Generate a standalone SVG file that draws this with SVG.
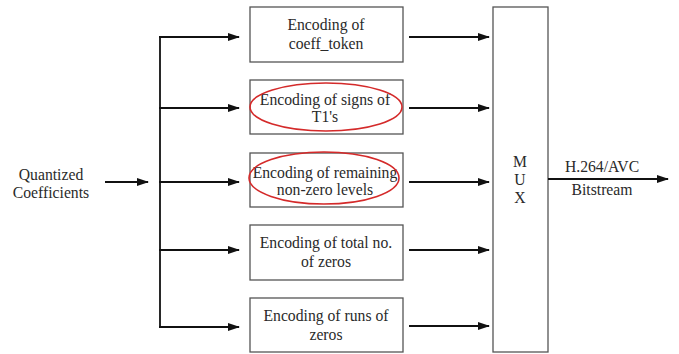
<svg xmlns="http://www.w3.org/2000/svg" width="679" height="354" viewBox="0 0 679 354">
<style>
.box{fill:#fff;stroke:#555;stroke-width:1.3}
.t{font-family:"Liberation Serif","Times New Roman",serif;font-size:15.7px;fill:#2a2a2a;text-anchor:middle}
.c{stroke:#111;stroke-width:1.8;fill:none}
.ell{fill:none;stroke:#d42a2a;stroke-width:1.6}
</style>
<defs>
<marker id="ah" markerWidth="12" markerHeight="8" refX="11" refY="4" orient="auto" markerUnits="userSpaceOnUse">
<path d="M0,0 L12,4 L0,8 Z" fill="#111"/>
</marker>
</defs>
<rect width="679" height="354" fill="#fff"/>
<g id="input">
<text class="t" x="51" y="180">Quantized</text>
<text class="t" x="51" y="198">Coefficients</text>
</g>
<g id="box1">
<rect class="box" x="250" y="7" width="153" height="55"/>
<text class="t" x="326" y="30">Encoding of</text>
<text class="t" x="326" y="49">coeff_token</text>
</g>
<g id="box2">
<rect class="box" x="250" y="80" width="153" height="54"/>
<text class="t" x="325" y="105">Encoding of signs of</text>
<text class="t" x="325" y="122">T1's</text>
<ellipse class="ell" cx="326" cy="107" rx="76" ry="24"/>
</g>
<g id="box3">
<rect class="box" x="250" y="153" width="153" height="54"/>
<text class="t" x="325" y="178">Encoding of remaining</text>
<text class="t" x="325" y="195">non-zero levels</text>
<ellipse class="ell" cx="324" cy="178" rx="75" ry="26"/>
</g>
<g id="box4">
<rect class="box" x="250" y="225" width="153" height="55"/>
<text class="t" x="326" y="248">Encoding of total no.</text>
<text class="t" x="326" y="267">of zeros</text>
</g>
<g id="box5">
<rect class="box" x="250" y="298" width="153" height="54"/>
<text class="t" x="326" y="321">Encoding of runs of</text>
<text class="t" x="326" y="340">zeros</text>
</g>
<g id="mux">
<rect class="box" x="493" y="7" width="55" height="345"/>
<text class="t" x="520" y="167">M</text>
<text class="t" x="520" y="185">U</text>
<text class="t" x="520" y="203">X</text>
</g>
<g id="output">
<text class="t" x="602" y="172">H.264/AVC</text>
<text class="t" x="602" y="195">Bitstream</text>
</g>
<g id="connectors">
<line class="c" x1="105" y1="182" x2="148" y2="182" marker-end="url(#ah)"/>
<line class="c" x1="160" y1="37" x2="160" y2="327"/>
<line class="c" x1="159" y1="37" x2="239" y2="37" marker-end="url(#ah)"/>
<line class="c" x1="159" y1="108" x2="239" y2="108" marker-end="url(#ah)"/>
<line class="c" x1="159" y1="182" x2="239" y2="182" marker-end="url(#ah)"/>
<line class="c" x1="159" y1="250" x2="239" y2="250" marker-end="url(#ah)"/>
<line class="c" x1="159" y1="327" x2="239" y2="327" marker-end="url(#ah)"/>
<line class="c" x1="409" y1="37" x2="489" y2="37" marker-end="url(#ah)"/>
<line class="c" x1="409" y1="108" x2="489" y2="108" marker-end="url(#ah)"/>
<line class="c" x1="409" y1="182" x2="489" y2="182" marker-end="url(#ah)"/>
<line class="c" x1="409" y1="250" x2="489" y2="250" marker-end="url(#ah)"/>
<line class="c" x1="409" y1="326" x2="489" y2="326" marker-end="url(#ah)"/>
<line class="c" x1="548" y1="179" x2="668" y2="179" marker-end="url(#ah)"/>
</g>
</svg>
